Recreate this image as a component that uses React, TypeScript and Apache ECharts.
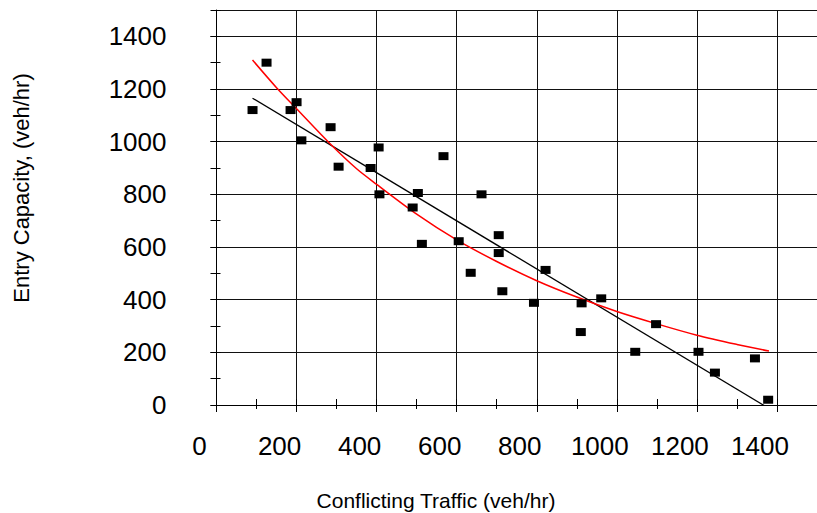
import React, { useEffect, useRef } from "react";
import * as echarts from "echarts";

// Observed roundabout entries: conflicting (circulating) flow vs. measured entry capacity
const conflictingTraffic = [
  90, 125, 185, 200, 212, 285, 305, 385, 405, 407, 490, 503, 513, 567, 605, 635,
  662, 705, 705, 714, 793, 822, 910, 912, 961, 1046, 1098, 1204, 1245, 1345, 1378,
];
const entryCapacity = [
  1120, 1300, 1120, 1150, 1005, 1055, 905, 900, 978, 800, 750, 805, 612, 945, 622, 502,
  800, 645, 577, 432, 388, 513, 277, 386, 405, 202, 307, 202, 123, 177, 20,
];

// Linear trend line (end points)
const linearFitX = [90, 1380];
const linearFitY = [1165, -13];

// Exponential trend curve (points along the curve)
const expFitX = [90, 150, 200, 285, 350, 400, 500, 600, 700, 800, 900, 1000, 1100, 1200, 1300, 1380];
const expFitY = [1310, 1205, 1125, 990, 897, 838, 725, 627, 545, 472, 410, 355, 308, 265, 230, 205];

// Axis ranges
const X_MAX = 1500;
const Y_MAX = 1500;
const MAJOR_STEP = 200;
const MINOR_STEP = 100;

const xTitle = "Conflicting Traffic (veh/hr)";
const yTitle = "Entry Capacity, (veh/hr)";

const FONT = '"Liberation Sans", Arial, Helvetica, sans-serif';

const zip = (xs: number[], ys: number[]) => xs.map((x, i) => [x, ys[i]]);
const plainNumber = (v: number) => String(v);

export default function App() {
  const ref = useRef<HTMLDivElement>(null);

  useEffect(() => {
    if (!ref.current) return;
    const chart = echarts.init(ref.current, undefined, { renderer: "svg" });

    const tickOnlyAxis = (max: number, pos: string, inside: boolean, length: number) => ({
      type: "value",
      min: 0,
      max,
      interval: MINOR_STEP,
      position: pos,
      axisLine: { show: false },
      axisTick: { show: true, inside, length, lineStyle: { color: "#000", width: 1 } },
      axisLabel: { show: false },
      splitLine: { show: false },
    });

    chart.setOption({
      animation: false,
      backgroundColor: "#ffffff",
      grid: { left: 216.5, top: 10, width: 610, height: 395, containLabel: false },
      xAxis: [
        {
          type: "value",
          min: 0,
          max: X_MAX,
          interval: MAJOR_STEP,
          position: "bottom",
          axisLine: { show: true, onZero: false, lineStyle: { color: "#000", width: 1 } },
          axisTick: { show: true, inside: false, length: 7, lineStyle: { color: "#000", width: 1 } },
          axisLabel: {
            showMaxLabel: false,
            margin: 28,
            fontSize: 26,
            fontFamily: FONT,
            color: "#000",
            padding: [0, 34, 0, 0],
            formatter: plainNumber,
          },
          splitLine: { show: true, lineStyle: { color: "#111", width: 1 } },
        },
        tickOnlyAxis(X_MAX, "bottom", true, 6),
        tickOnlyAxis(X_MAX, "bottom", false, 4),
      ],
      yAxis: [
        {
          type: "value",
          min: 0,
          max: Y_MAX,
          interval: MAJOR_STEP,
          position: "left",
          axisLine: { show: true, onZero: false, lineStyle: { color: "#000", width: 1 } },
          axisTick: { show: true, inside: false, length: 6, lineStyle: { color: "#000", width: 1 } },
          axisLabel: {
            showMaxLabel: false,
            margin: 50,
            fontSize: 26,
            fontFamily: FONT,
            color: "#000",
            formatter: plainNumber,
          },
          splitLine: { show: true, lineStyle: { color: "#111", width: 1 } },
        },
        tickOnlyAxis(Y_MAX, "left", false, 6),
        tickOnlyAxis(Y_MAX, "left", true, 4),
      ],
      graphic: [
        {
          type: "text",
          x: 21,
          y: 188,
          rotation: Math.PI / 2,
          style: {
            text: yTitle,
            fontSize: 22,
            fontFamily: FONT,
            fill: "#000",
            align: "center",
            verticalAlign: "middle",
          },
        },
        {
          type: "text",
          x: 436,
          y: 500,
          style: {
            text: xTitle,
            fontSize: 21,
            fontFamily: FONT,
            fill: "#000",
            align: "center",
            verticalAlign: "middle",
          },
        },
      ],
      series: [
        {
          type: "line",
          data: zip(linearFitX, linearFitY),
          showSymbol: false,
          symbol: "none",
          clip: true,
          lineStyle: { color: "#000", width: 1.3 },
          z: 3,
        },
        {
          type: "line",
          data: zip(expFitX, expFitY),
          smooth: 0.3,
          showSymbol: false,
          symbol: "none",
          clip: true,
          lineStyle: { color: "#ff0000", width: 1.5 },
          z: 3,
        },
        {
          type: "scatter",
          data: zip(conflictingTraffic, entryCapacity),
          symbol: "rect",
          symbolSize: [10, 8],
          itemStyle: { color: "#000", opacity: 1 },
          z: 4,
        },
      ],
    });

    return () => chart.dispose();
  }, []);

  return (
    <div
      ref={ref}
      style={{ position: "fixed", left: 0, top: 0, width: 817, height: 513, background: "#fff" }}
    />
  );
}
